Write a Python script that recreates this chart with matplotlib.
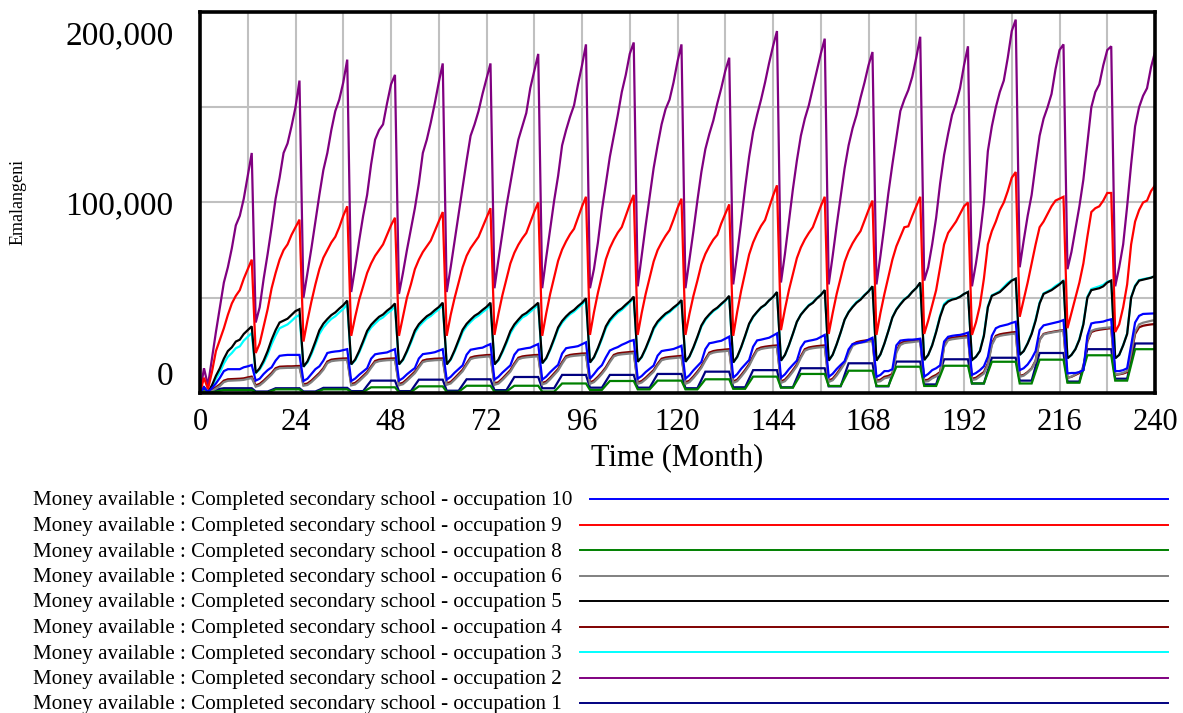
import numpy as np
import matplotlib
matplotlib.use("Agg")
import matplotlib.pyplot as plt
from matplotlib.lines import Line2D
from matplotlib.transforms import ScaledTranslation

plt.rcParams['font.family'] = ['Liberation Serif', 'DejaVu Serif']

# ---------------- data (thousands of Emalangeni, monthly 0..240) ----------------
months = list(range(241))

occ1_navy = [0, 1.0,
    0.2, 0.8, 1.5, 2.2, 2.5, 2.5, 2.5, 2.5, 2.5, 2.5, 2.5, 2.5,
    0.8, 0.8, 0.8, 0.8, 1.6, 2.5, 2.5, 2.5, 2.5, 2.5, 2.5, 2.5,
    0.8, 0.8, 0.8, 0.8, 1.7, 2.7, 2.7, 2.7, 2.7, 2.7, 2.7, 2.7,
    1.0, 1.0, 1.0, 1.0, 3.8, 6.5, 6.5, 6.5, 6.5, 6.5, 6.5, 6.5,
    1.0, 1.0, 1.0, 1.0, 4.0, 7.0, 7.0, 7.0, 7.0, 7.0, 7.0, 7.0,
    1.2, 1.2, 1.2, 1.2, 4.2, 7.2, 7.2, 7.2, 7.2, 7.2, 7.2, 7.2,
    1.5, 1.5, 1.5, 1.5, 5.0, 8.4, 8.4, 8.4, 8.4, 8.4, 8.4, 8.4,
    2.5, 2.5, 2.5, 2.5, 6.0, 9.5, 9.5, 9.5, 9.5, 9.5, 9.5, 9.5,
    2.8, 2.8, 2.8, 2.8, 6.2, 9.5, 9.5, 9.5, 9.5, 9.5, 9.5, 9.5,
    2.8, 2.8, 2.8, 2.8, 6.4, 10.0, 10.0, 10.0, 10.0, 10.0, 10.0, 10.0,
    2.5, 2.5, 2.5, 2.5, 6.8, 11.2, 11.2, 11.2, 11.2, 11.2, 11.2, 11.2,
    3.0, 3.0, 3.0, 3.0, 7.5, 12.0, 12.0, 12.0, 12.0, 12.0, 12.0, 12.0,
    3.0, 3.0, 3.0, 3.0, 8.0, 13.0, 13.0, 13.0, 13.0, 13.0, 13.0, 13.0,
    3.5, 3.5, 3.5, 3.5, 9.5, 15.6, 15.6, 15.6, 15.6, 15.6, 15.6, 15.6,
    3.5, 3.5, 3.5, 3.5, 10.0, 16.5, 16.5, 16.5, 16.5, 16.5, 16.5, 16.5,
    4.5, 4.5, 4.5, 4.5, 11.0, 17.7, 17.7, 17.7, 17.7, 17.7, 17.7, 17.7,
    5.0, 5.0, 5.0, 5.0, 12.0, 18.5, 18.5, 18.5, 18.5, 18.5, 18.5, 18.5,
    6.5, 6.5, 6.5, 6.5, 14.0, 21.0, 21.0, 21.0, 21.0, 21.0, 21.0, 21.0,
    6.0, 6.0, 6.0, 6.0, 14.5, 23.0, 23.0, 23.0, 23.0, 23.0, 23.0, 23.0,
    7.5, 7.5, 7.5, 7.5, 17.0, 26.0, 26.0, 26.0, 26.0, 26.0, 26.0]

occ2_purple = [0, 13,
    4, 18, 32, 45, 58, 66, 76, 88, 93, 102, 114, 126,
    37, 45, 60, 73, 87, 102, 113, 126, 131, 140, 150, 164,
    50, 63, 76, 90, 104, 117, 126, 138, 148, 154, 163, 175,
    53, 66, 80, 93, 104, 120, 133, 138, 141, 152, 162, 167,
    52, 63, 75, 86, 97, 110, 126, 133, 142, 152, 163, 173,
    53, 66, 80, 94, 108, 122, 135, 141, 148, 157, 165, 173,
    55, 70, 84, 98, 110, 122, 133, 140, 147, 160, 169, 178,
    55, 71, 86, 101, 114, 130, 138, 145, 151, 162, 172, 183,
    55, 65, 79, 96, 110, 124, 135, 146, 158, 167, 178, 184,
    56, 72, 88, 103, 118, 130, 141, 149, 154, 163, 174, 183,
    55, 70, 85, 101, 116, 128, 136, 143, 152, 160, 169, 176,
    57, 73, 90, 108, 124, 137, 146, 154, 163, 173, 182, 190,
    58, 73, 90, 107, 122, 135, 144, 151, 160, 169, 178, 186,
    57, 72, 88, 103, 118, 130, 139, 146, 155, 163, 172, 179,
    57, 72, 88, 105, 120, 134, 148, 154, 159, 166, 176, 187,
    59, 66, 78, 92, 110, 125, 136, 146, 152, 160, 172, 182,
    56, 68, 82, 100, 127, 140, 150, 158, 164, 176, 190, 196,
    66, 80, 93, 104, 120, 135, 144, 150, 157, 170, 180, 183,
    65, 74, 86, 98, 112, 131, 150, 158, 162, 172, 180, 182,
    56, 66, 78, 98, 120, 140, 150, 156, 160, 171, 179]

occ3_cyan = [0, 2.5,
    0.5, 3.3, 7.5, 11, 15.5, 19, 21, 23.5, 24.5, 27.5, 29.5, 31.5,
    10.5, 12.3, 15.8, 20.2, 25.6, 30.2, 34, 35, 36, 37.8, 39.8, 41,
    13.8, 16, 20.3, 25.5, 31, 34.4, 36.8, 38.9, 40.3, 42.3, 44.1, 46.5,
    15, 17.1, 21.2, 26.1, 31.3, 34.4, 36.5, 38.5, 39.7, 41.7, 43.3, 45.5,
    15, 17.2, 21.4, 26.3, 31.6, 34.9, 37.1, 39.1, 40.4, 42.3, 43.9, 46.2,
    15, 17.4, 21.8, 26.8, 32, 35.1, 37.3, 39.3, 40.6, 42.4, 44, 46.3,
    15, 17.1, 21.3, 26, 31.3, 34.8, 37.3, 39.6, 40.8, 42.6, 44.4, 46.3,
    15.6, 18, 22.5, 27.8, 33.5, 36.9, 39.3, 41.3, 42.7, 44.7, 46.4, 48.8,
    16, 18.5, 23, 28.3, 34, 37.5, 40, 42.1, 43.6, 45.6, 47.5, 50,
    16.4, 18.7, 23, 28, 33.4, 36.7, 39, 41, 42.4, 44.3, 46, 48.3,
    16.4, 19, 23.6, 29, 34.8, 38.3, 40.8, 42.9, 44.4, 46.4, 48.3, 50.7,
    16, 18.8, 23.8, 29.7, 36, 39.8, 42.4, 44.7, 46.2, 48.5, 50.3, 52.9,
    17, 19.9, 25, 31, 37.3, 41.2, 43.8, 46.2, 47.6, 49.8, 51.5, 54,
    17, 20, 25.5, 31.7, 38.5, 42.6, 45.4, 47.8, 49.3, 51.5, 53.4, 56,
    17, 20.2, 25.9, 32.6, 39.7, 43.9, 46.8, 49.3, 50.8, 53.2, 55.1, 57.8,
    17.3, 20, 25.2, 32.4, 40.7, 46.8, 48.6, 49.3, 49.7, 50.6, 52, 53,
    17.3, 19, 22.2, 30.5, 45.5, 51.3, 52.3, 53.5, 55.6, 57.8, 59.3, 60,
    20, 22, 26.2, 31.4, 38.6, 47.5, 52.3, 53.4, 54.5, 56.2, 57.5, 59,
    18.2, 20, 23.1, 28.3, 36.5, 50.5, 54.6, 55.3, 56, 56.8, 58.4, 59,
    18.2, 20, 25.1, 31.3, 50.3, 56.4, 59.3, 59.8, 60.2, 60.6, 61.3]

occ4_brown = [0, 1.5,
    0.3, 1.5, 3, 4.5, 6.5, 7.2, 7.3, 7.4, 7.5, 7.7, 8.2, 8.6,
    4, 4.8, 6.5, 8.5, 10.5, 13, 13.8, 13.9, 14, 14, 14.1, 14.2,
    4.5, 5, 6.5, 8.5, 10.5, 13, 16.5, 17.5, 17.8, 18, 18.1, 18.2,
    4.7, 5.3, 7, 9, 11, 14, 16.8, 17.5, 17.8, 18, 18.1, 18.2,
    4.7, 5.4, 7.2, 9.2, 11.2, 14.2, 17, 17.6, 17.8, 18, 18.1, 18.2,
    5, 5.8, 7.8, 10, 12.2, 15.5, 18.6, 19.2, 19.5, 19.7, 19.9, 20,
    5, 5.7, 7.6, 9.8, 12, 15.5, 18.5, 19.2, 19.5, 19.7, 19.9, 20,
    5.2, 6, 8, 10.3, 12.6, 16.2, 19.3, 20, 20.3, 20.5, 20.7, 20.8,
    5.5, 6.5, 8.5, 10.8, 13.5, 17, 20, 20.8, 21.1, 21.3, 21.5, 21.7,
    5.5, 6.3, 8, 10, 12, 15.3, 18, 18.6, 18.9, 19.1, 19.3, 19.5,
    5.5, 6.5, 8.7, 11.2, 14, 17.8, 21.2, 22, 22.4, 22.6, 22.8, 23,
    6, 7, 9.4, 12.1, 15.1, 19.3, 23, 23.9, 24.3, 24.6, 24.8, 25,
    6, 7, 9.3, 12, 15, 19.3, 23, 23.9, 24.3, 24.6, 24.8, 25,
    6.5, 7.5, 10, 13, 16.3, 21.2, 25.5, 26.7, 27.2, 27.5, 27.8, 28,
    6.5, 7, 8.5, 9, 10, 22, 26, 27, 27.3, 27.5, 27.8, 28,
    6.6, 7, 8.5, 9.5, 11, 25, 28.5, 29, 29.3, 29.6, 29.8, 30,
    7.5, 8, 9.5, 11, 15.5, 26, 30, 30.8, 31.2, 31.5, 31.8, 32,
    9, 9.5, 11, 13, 17, 28, 31, 31.6, 32, 32.4, 32.7, 33,
    8, 8.5, 9.5, 10.5, 12, 27, 32, 32.8, 33.2, 33.5, 33.8, 34,
    9.5, 9.8, 10.2, 11, 20, 31, 34.5, 35.3, 35.7, 36, 36.2]

occ5_black = [0, 3,
    0.5, 4, 9, 13, 18, 22, 24, 27, 28, 31, 33, 35,
    10.5, 13, 17, 22, 28, 33, 37, 38, 39, 41, 43, 44,
    13.8, 16.6, 21.4, 27, 32.9, 36.4, 38.8, 40.9, 42.3, 44.3, 46.1, 48.5,
    15, 17.6, 22, 27.2, 32.6, 35.8, 38, 40, 41.2, 43.2, 44.8, 47,
    15, 17.6, 22.1, 27.3, 32.8, 36.1, 38.3, 40.3, 41.6, 43.5, 45.1, 47.4,
    15, 17.8, 22.5, 27.8, 33.2, 36.3, 38.5, 40.5, 41.8, 43.6, 45.2, 47.4,
    15, 17.5, 22, 27, 32.5, 36, 38.5, 40.8, 42, 43.8, 45.5, 47.4,
    15.6, 18.3, 23.1, 28.6, 34.4, 37.8, 40.2, 42.2, 43.6, 45.6, 47.3, 49.7,
    16, 18.8, 23.6, 29.1, 35, 38.5, 40.9, 43, 44.4, 46.4, 48.2, 50.6,
    16.4, 19, 23.5, 28.7, 34.2, 37.5, 39.7, 41.7, 43, 44.9, 46.5, 48.8,
    16.4, 19.2, 24, 29.5, 35.4, 38.9, 41.3, 43.4, 44.8, 46.8, 48.6, 51,
    16, 19, 24.1, 30.1, 36.4, 40.1, 42.6, 44.9, 46.3, 48.6, 50.4, 53,
    17, 20, 25.1, 31.1, 37.4, 41.1, 43.6, 45.9, 47.3, 49.6, 51.4, 54,
    17, 20.1, 25.6, 31.8, 38.5, 42.4, 45.1, 47.4, 49, 51.3, 53.3, 56,
    17, 20.3, 26, 32.6, 39.6, 43.7, 46.5, 49, 50.6, 53.1, 55.1, 58,
    17.3, 20, 25, 32, 40, 46, 48, 49, 49.5, 50.5, 52, 53,
    17.3, 19, 22, 30, 45, 51, 52, 53, 55, 57, 59, 60,
    20, 22, 26, 31, 38, 47, 52, 53, 54, 55.5, 57, 59,
    18.2, 20, 23, 28, 36, 50, 54, 54.5, 55, 56, 58, 59,
    18.2, 20, 25, 31, 50, 56, 59, 59.5, 60, 60.5, 61.4]

occ6_grey = [0, 1.2,
    0.2, 1.0, 2.3, 3.7, 5.7, 6.4, 6.5, 6.6, 6.7, 6.9, 7.4, 7.8,
    3.3, 4.0, 5.7, 7.7, 9.7, 12.2, 13.0, 13.1, 13.2, 13.2, 13.3, 13.4,
    3.8, 4.2, 5.7, 7.7, 9.7, 12.2, 15.7, 16.7, 17.0, 17.2, 17.3, 17.4,
    4.0, 4.5, 6.2, 8.2, 10.2, 13.2, 16.0, 16.7, 17.0, 17.2, 17.3, 17.4,
    4.0, 4.6, 6.4, 8.4, 10.4, 13.4, 16.2, 16.8, 17.0, 17.2, 17.3, 17.4,
    4.3, 5.0, 7.0, 9.2, 11.4, 14.7, 17.8, 18.4, 18.7, 18.9, 19.1, 19.2,
    4.3, 4.9, 6.8, 9.0, 11.2, 14.7, 17.7, 18.4, 18.7, 18.9, 19.1, 19.2,
    4.5, 5.2, 7.2, 9.5, 11.8, 15.4, 18.5, 19.2, 19.5, 19.7, 19.9, 20.0,
    4.8, 5.7, 7.7, 10.0, 12.7, 16.2, 19.2, 20.0, 20.3, 20.5, 20.7, 20.9,
    4.8, 5.5, 7.2, 9.2, 11.2, 14.5, 17.2, 17.8, 18.1, 18.3, 18.5, 18.7,
    4.8, 5.7, 7.9, 10.4, 13.2, 17.0, 20.4, 21.2, 21.6, 21.8, 22.0, 22.2,
    5.3, 6.2, 8.6, 11.3, 14.3, 18.5, 22.2, 23.1, 23.5, 23.8, 24.0, 24.2,
    5.3, 6.2, 8.5, 11.2, 14.2, 18.5, 22.2, 23.1, 23.5, 23.8, 24.0, 24.2,
    5.8, 6.7, 9.2, 12.2, 15.5, 20.4, 24.7, 25.9, 26.4, 26.7, 27.0, 27.2,
    5.8, 6.2, 7.7, 8.2, 9.2, 21.2, 25.2, 26.2, 26.5, 26.7, 27.0, 27.2,
    5.9, 6.2, 7.7, 8.7, 10.2, 24.2, 27.7, 28.2, 28.5, 28.8, 29.0, 29.2,
    6.8, 7.2, 8.7, 10.2, 14.7, 25.2, 29.2, 30.0, 30.4, 30.7, 31.0, 31.2,
    8.5, 9.1, 10.7, 12.7, 16.7, 27.7, 30.7, 31.3, 31.7, 32.1, 32.4, 32.7,
    8.0, 8.6, 9.8, 11.0, 12.6, 27.6, 32.6, 33.4, 33.8, 34.1, 34.3, 34.5,
    9.6, 10.0, 10.6, 11.6, 21.0, 32.2, 36.0, 36.9, 37.4, 37.9, 38.3]

occ8_green = [0, 0.8,
    0.1, 0.4, 0.8, 1.2, 1.6, 1.6, 1.6, 1.6, 1.6, 1.6, 1.6, 1.6,
    0.4, 0.4, 0.4, 0.4, 1.1, 1.9, 1.9, 1.9, 1.9, 1.9, 1.9, 1.9,
    0.4, 0.4, 0.4, 0.4, 1.1, 1.9, 1.9, 1.9, 1.9, 1.9, 1.9, 1.9,
    0.5, 0.5, 0.5, 0.5, 1.8, 3.0, 3.0, 3.0, 3.0, 3.0, 3.0, 3.0,
    0.5, 0.5, 0.5, 0.5, 2.0, 3.5, 3.5, 3.5, 3.5, 3.5, 3.5, 3.5,
    0.6, 0.6, 0.6, 0.6, 2.2, 3.8, 3.8, 3.8, 3.8, 3.8, 3.8, 3.8,
    0.7, 0.7, 0.7, 0.7, 2.3, 3.8, 3.8, 3.8, 3.8, 3.8, 3.8, 3.8,
    0.7, 0.7, 0.7, 0.7, 2.8, 5.0, 5.0, 5.0, 5.0, 5.0, 5.0, 5.0,
    1.6, 1.6, 1.6, 1.6, 4.0, 6.3, 6.3, 6.3, 6.3, 6.3, 6.3, 6.3,
    1.9, 1.9, 1.9, 1.9, 4.2, 6.5, 6.5, 6.5, 6.5, 6.5, 6.5, 6.5,
    1.9, 1.9, 1.9, 1.9, 4.5, 7.2, 7.2, 7.2, 7.2, 7.2, 7.2, 7.2,
    2.2, 2.2, 2.2, 2.2, 5.4, 8.6, 8.6, 8.6, 8.6, 8.6, 8.6, 8.6,
    2.8, 2.8, 2.8, 2.8, 6.4, 10.0, 10.0, 10.0, 10.0, 10.0, 10.0, 10.0,
    3.7, 3.7, 3.7, 3.7, 7.7, 11.7, 11.7, 11.7, 11.7, 11.7, 11.7, 11.7,
    3.7, 3.7, 3.7, 3.7, 8.7, 13.8, 13.8, 13.8, 13.8, 13.8, 13.8, 13.8,
    3.7, 3.7, 3.7, 3.7, 9.0, 14.3, 14.3, 14.3, 14.3, 14.3, 14.3, 14.3,
    5.0, 5.0, 5.0, 5.0, 10.7, 16.4, 16.4, 16.4, 16.4, 16.4, 16.4, 16.4,
    5.0, 5.0, 5.0, 5.0, 11.2, 17.5, 17.5, 17.5, 17.5, 17.5, 17.5, 17.5,
    5.4, 5.4, 5.4, 5.4, 12.6, 19.8, 19.8, 19.8, 19.8, 19.8, 19.8, 19.8,
    6.5, 6.5, 6.5, 6.5, 14.8, 23.0, 23.0, 23.0, 23.0, 23.0, 23.0]

occ9_red = [0, 8,
    2, 11, 22, 28, 34, 41, 47, 51, 54, 60, 65, 70,
    21, 26, 35, 44, 55, 63, 70, 75, 78, 83, 87, 91,
    27, 38, 48, 57, 65, 71, 75, 79, 82, 87, 93, 98,
    30, 40, 49, 56, 63, 68, 72, 75, 78, 83, 88, 92,
    30, 40, 50, 57, 65, 70, 74, 77, 80, 85, 90, 95,
    30, 41, 50, 58, 66, 72, 76, 79, 82, 87, 92, 97,
    30.5, 41.6, 51.4, 59.7, 68, 73.6, 77.8, 81.2, 84, 89.6, 95.1, 100,
    30, 41.7, 52, 60.7, 69.4, 75.3, 79.6, 83.3, 86.2, 92, 97.9, 103,
    30.5, 42.3, 52.6, 61.4, 70.2, 76.1, 80.5, 84.2, 87.1, 93, 98.9, 104,
    30.5, 42, 52, 60.5, 69, 75, 79, 82.5, 85.5, 91, 97, 102,
    30.5, 41.5, 51, 59, 67.5, 73, 77, 80.5, 83, 89, 94, 99,
    30, 42.6, 53.7, 63.2, 72.7, 79, 83.7, 87.7, 90.8, 97.2, 103.5, 109,
    33, 44, 54, 62.4, 70.8, 76.4, 80.6, 84, 87, 92.5, 98, 103,
    31, 42, 52, 60.4, 68.8, 74.4, 78.6, 82, 85, 90.5, 96, 101,
    30.5, 42, 52, 61, 70, 77, 82, 87, 87.5, 93, 98, 103,
    31, 38, 46, 54, 66, 78, 84, 87, 90, 94, 98, 100,
    30.5, 37, 46, 60, 78, 85, 90, 96, 100, 106, 113, 116,
    40, 49, 58, 68, 78, 87, 90, 94, 98, 101, 102, 103,
    34, 42, 50, 58, 68, 82, 95, 97, 98, 101, 105, 105,
    32, 36, 45, 57, 78, 90, 96, 100, 101, 106, 109]

occ10_blue = [0, 3,
    0.5, 2.5, 5, 8, 11.5, 12.5, 12.5, 12.5, 12.5, 13.5, 14, 14.7,
    6.5, 7.5, 10, 12, 13.5, 17, 19.5, 19.8, 20, 20, 20, 20,
    6.3, 7.5, 10, 12.5, 14, 17, 21, 21.5, 21.8, 22, 22.5, 23,
    6.3, 7.6, 9.6, 11.3, 13, 18, 20.3, 20.7, 21, 21.3, 22.2, 23,
    6.5, 7.8, 9.8, 11.5, 13.1, 18.1, 20.4, 20.7, 21, 21.4, 22.2, 23,
    7, 8.5, 10.7, 12.6, 14.5, 20.1, 22.7, 23.1, 23.5, 23.8, 24.8, 25.7,
    7, 8.5, 10.7, 12.6, 14.5, 20.1, 22.7, 23.1, 23.5, 23.8, 24.8, 25.7,
    7, 8.6, 10.9, 12.9, 14.8, 20.7, 23.5, 23.9, 24.2, 24.6, 25.6, 26.6,
    7.5, 9.9, 12.6, 14.6, 18.7, 22.3, 23.3, 24.1, 25.3, 26.2, 27.2, 27.8,
    7.5, 8.9, 11, 12.7, 14.4, 19.6, 22, 22.4, 22.7, 23.1, 23.9, 24.8,
    7.5, 9.3, 11.9, 14.1, 16.3, 23, 26.1, 26.5, 27, 27.4, 28.5, 29.6,
    8, 9.9, 12.7, 15, 17.3, 24.3, 27.6, 28, 28.5, 29, 30.1, 31.3,
    8, 9.8, 12.5, 14.8, 17, 23.8, 26.9, 27.4, 27.8, 28.3, 29.4, 30.5,
    8.5, 10.1, 12.6, 14.7, 16.7, 22.9, 25.7, 26.1, 26.5, 27, 28, 29,
    8.5, 9.5, 11.5, 11.5, 12.5, 25, 27.5, 27.8, 28, 28, 28.2, 28.5,
    8.6, 10, 12, 13, 14.5, 27, 29.5, 30, 30.3, 30.5, 31, 31.7,
    9.5, 10.5, 12, 14, 19, 30, 34, 35, 35.5, 36, 36.8, 37.4,
    12, 13, 15, 18, 22, 33, 35.5, 36, 36.5, 37, 37.5, 38.3,
    10.3, 10.5, 10.5, 11, 12, 30, 36.5, 37, 37.2, 37.5, 38.2, 38.7,
    11.5, 11.5, 12, 13, 25, 37, 40.5, 41.5, 41.6, 41.7, 41.8]

prefix = "Money available : Completed secondary school - occupation "
# legend order (top to bottom)
series = [
    ("10", "#0000FF", occ10_blue),
    ("9", "#FF0000", occ9_red),
    ("8", "#008000", occ8_green),
    ("6", "#808080", occ6_grey),
    ("5", "#000000", occ5_black),
    ("4", "#800000", occ4_brown),
    ("3", "#00FFFF", occ3_cyan),
    ("2", "#800080", occ2_purple),
    ("1", "#000080", occ1_navy),
]

x_ticks = list(range(0, 241, 24))
y_ticks = [0, 100000, 200000]
y_tick_labels = ["0", "100,000", "200,000"]

# ---------------- figure ----------------
W, H = 1183, 713
fig = plt.figure(figsize=(W / 100, H / 100), dpi=100)
ax = fig.add_axes([200 / W, 1 - 393 / H, 955 / W, 381 / H])

n = len(series)
for i, (num, col, vals) in enumerate(series):
    assert len(vals) == len(months), (num, len(vals))
    ax.plot(months, np.array(vals) * 1000.0, color=col, lw=1.6,
            zorder=3 + (n - i) * 0.01, solid_joinstyle='miter')

ax.set_xlim(0, 240)
ax.set_ylim(0, 200000)
ax.set_xticks(x_ticks)
ax.set_xticks(list(range(0, 241, 12)), minor=True)
ax.set_yticks(y_ticks)
ax.set_yticklabels(y_tick_labels)
ax.set_yticks([0, 50000, 100000, 150000, 200000], minor=True)
ax.grid(which='both', color='#C0C0C0', lw=1.5)
ax.set_axisbelow(True)
ax.tick_params(which='both', length=0)
ax.tick_params(axis='x', pad=11, labelsize=22)
ax.tick_params(axis='y', pad=19, labelsize=24)
for sp in ax.spines.values():
    sp.set_linewidth(2.6)
    sp.set_color('black')
    sp.set_zorder(10)

# shift outer y labels inward (as in the reference)
ylabs = ax.get_yticklabels()
ylabs[0].set_transform(ylabs[0].get_transform() + ScaledTranslation(0, 14 / 72, fig.dpi_scale_trans))
ylabs[-1].set_transform(ylabs[-1].get_transform() + ScaledTranslation(0, -15 / 72, fig.dpi_scale_trans))

ax.set_xlabel("Time (Month)", fontsize=22, labelpad=4)
fig.text(18 / W, 1 - 202 / H, "Emalangeni", rotation=90, ha='center', va='center', fontsize=13)

# ---------------- legend ----------------
row_y = [501, 526.5, 552, 577.5, 603, 628.5, 654, 679.5, 705]
fig.canvas.draw()
renderer = fig.canvas.get_renderer()
fs = 15.2
for (num, col, vals), yy in zip(series, row_y):
    t = fig.text(33 / W, 1 - yy / H, prefix + num, ha='left', va='center', fontsize=fs)
    bb = t.get_window_extent(renderer=renderer)
    x0 = bb.x1 + 18
    ly = yy - 2
    fig.add_artist(Line2D([x0 / W, 1168 / W], [1 - ly / H, 1 - ly / H],
                          transform=fig.transFigure, color=col, lw=1.4))

fig.savefig("out.png", dpi=100)
